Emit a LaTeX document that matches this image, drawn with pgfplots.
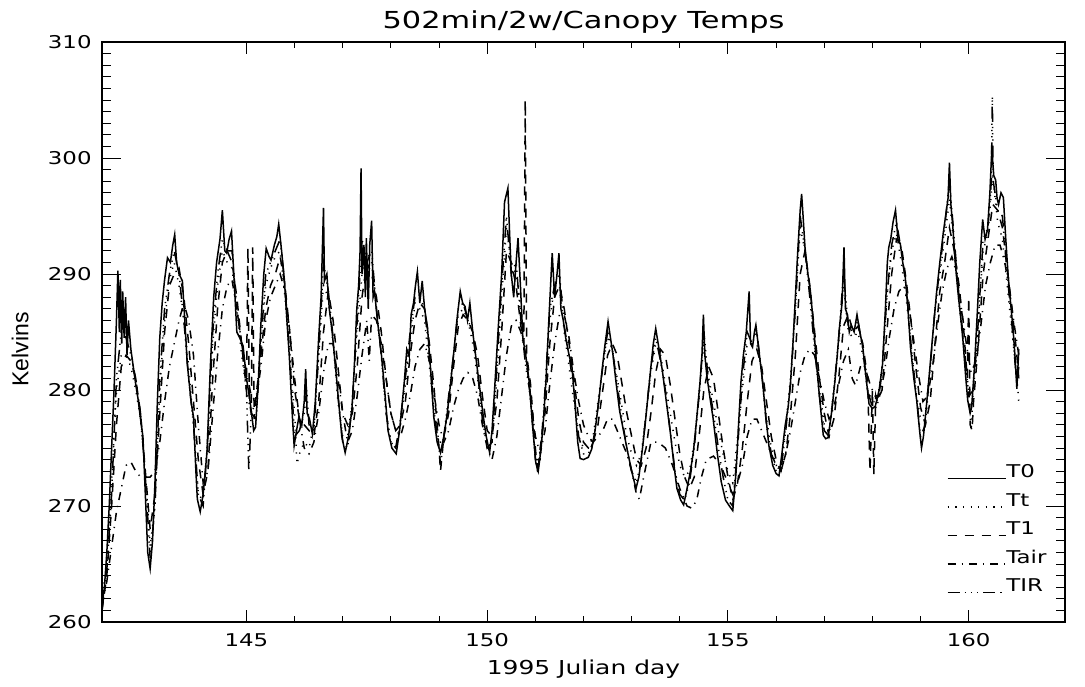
\documentclass[border=0pt]{standalone}
\usepackage{pgfplots}
\pgfplotsset{compat=1.18}
\usepackage{fontspec}
\setmainfont{DejaVu Sans}[FakeStretch=1.3]
\newfontfamily\kfont{Liberation Sans}

\begin{document}
\begin{tikzpicture}
\useasboundingbox (-51pt,-32pt) rectangle (491.5pt,311pt);

\begin{axis}[
    at={(0pt,0pt)}, anchor=south west,
    scale only axis, width=481.5pt, height=290pt,
    xmin=142, xmax=162, ymin=260, ymax=310,
    xtick={145,150,155,160}, minor x tick num=4,
    ytick={260,270,...,310}, minor y tick num=9,
    tick pos=both, tick align=inside,
    major tick length=6pt, minor tick length=3pt,
    axis line style={line width=0.6pt},
    every tick/.style={black, line width=0.5pt},
    /pgf/number format/assume math mode=true,
    /pgf/number format/set thousands separator={},
    tick label style={font=\fontsize{8.8}{10}\selectfont},
    xticklabel style={inner sep=0pt, yshift=-5.5pt},
    yticklabel style={inner sep=0pt, xshift=-5pt},
    title={502min/2w/Canopy Temps},
    title style={at={(0.5,1)}, anchor=base, yshift=1pt, inner sep=0pt,
                 font=\fontsize{11.7}{13}\selectfont},
    xlabel={1995 Julian day},
    xlabel style={at={(axis description cs:0.5,0)}, anchor=north, yshift=-19pt,
                  inner sep=0pt, font=\fontsize{9.6}{11}\selectfont},
    ylabel={Kelvins},
    ylabel style={at={(axis description cs:-0.085,0.47)}, anchor=center,
                  inner sep=0pt, font=\kfont\fontsize{11.5}{12}\selectfont},
    legend style={at={(axis description cs:0.877,0.272)}, anchor=north west,
                  draw=none, fill=none, inner sep=0pt, row sep=6.3pt, column sep=0pt,
                  nodes={inner sep=0pt}, font=\fontsize{8.8}{10}\selectfont},
    legend cell align=left,
    legend image code/.code={\draw[#1] (0pt,-2.8pt) -- (29pt,-2.8pt);},
    every axis plot/.append style={black, line width=0.75pt},
  ]

  % T0
  \addplot[solid] coordinates {
    (142.00,261.5) (142.05,263) (142.10,266) (142.15,270) (142.20,275) (142.25,280)
    (142.30,286) (142.33,290.3) (142.36,285) (142.38,289.5) (142.41,284) (142.43,288.5)
    (142.46,284.5) (142.49,288) (142.52,283) (142.55,286) (142.60,283.5) (142.65,282)
    (142.70,280.5) (142.75,279.2) (142.80,277.5) (142.85,276) (142.90,271) (142.95,266)
    (143.00,264.6) (143.05,267) (143.10,272) (143.15,279) (143.20,284.5) (143.25,287.5)
    (143.30,289.5) (143.36,291.4) (143.42,291) (143.47,292.5) (143.51,293.4) (143.55,291)
    (143.60,290) (143.67,289.4) (143.72,286) (143.77,282.3) (143.85,279) (143.90,277.7)
    (143.95,273) (143.98,270.6) (144.04,269.5) (144.10,271) (144.18,274.6) (144.25,282)
    (144.32,288) (144.38,291) (144.45,293) (144.50,295.5) (144.55,292) (144.59,291.8)
    (144.64,293) (144.69,293.7) (144.75,289) (144.80,285) (144.86,284.5) (144.93,283.8)
    (145.00,281) (145.07,279.2) (145.12,277.5) (145.15,276.5) (145.19,276.8) (145.25,281)
    (145.30,285.7) (145.36,290) (145.41,292.2) (145.47,291.5) (145.51,291.2) (145.58,292.5)
    (145.63,293.2) (145.67,294.3) (145.73,292) (145.79,289.4) (145.84,286) (145.89,282.9)
    (145.95,278) (145.99,275.2) (146.04,276.5) (146.09,277.7) (146.15,277) (146.20,279)
    (146.23,281.8) (146.26,278) (146.31,277.5) (146.37,276.2) (146.43,279) (146.50,284.5)
    (146.55,288) (146.60,295.7) (146.62,289.4) (146.67,290) (146.72,287) (146.78,285)
    (146.85,282) (146.91,279.2) (146.98,276) (147.05,274.6) (147.12,276) (147.19,278.3)
    (147.24,282) (147.29,286.9) (147.33,289) (147.36,292) (147.38,299.1) (147.40,290)
    (147.44,292.5) (147.47,288) (147.49,293.1) (147.53,287) (147.56,292.5) (147.60,294.6)
    (147.63,288) (147.66,288.5) (147.72,286) (147.80,283.2) (147.87,280) (147.94,276.5)
    (148.02,275) (148.11,274.5) (148.18,276.5) (148.28,280.8) (148.33,283.5) (148.38,282.9)
    (148.42,286.5) (148.47,287.5) (148.51,289) (148.55,290.2) (148.60,287.5) (148.65,289.4)
    (148.70,287) (148.76,285.4) (148.82,282) (148.89,277.7) (148.96,275.5) (149.03,274.6)
    (149.10,276) (149.17,278) (149.23,280.2) (149.30,283) (149.37,286) (149.44,288.5)
    (149.49,287.5) (149.54,287.2) (149.59,286) (149.64,287.5) (149.70,285) (149.78,282.3)
    (149.85,280) (149.92,277.7) (149.98,276) (150.05,274.6) (150.10,276.5) (150.16,280.5)
    (150.23,285.4) (150.30,290) (150.36,296.2) (150.43,297.4) (150.47,293) (150.50,290)
    (150.55,288) (150.60,291) (150.64,293.1) (150.69,289) (150.74,284.5) (150.80,283)
    (150.87,280.8) (150.94,277) (151.01,273.7) (151.06,273) (151.12,275) (151.17,277.5)
    (151.22,280.8) (151.28,286) (151.35,291.8) (151.40,288) (151.45,290) (151.49,291.8)
    (151.53,287) (151.58,286) (151.63,284.5) (151.70,283) (151.76,282) (151.82,279)
    (151.88,275.5) (151.93,274.1) (152.00,274) (152.10,274.2) (152.17,274.9) (152.24,276.5)
    (152.31,278.8) (152.38,281.5) (152.44,283.7) (152.51,285.9) (152.56,284.5) (152.61,283.1)
    (152.68,280.5) (152.75,278.2) (152.83,276.5) (152.92,274.6) (153.00,273) (153.09,271.5)
    (153.15,272.5) (153.22,274.8) (153.28,277) (153.33,279.1) (153.40,282) (153.45,284)
    (153.50,285.3) (153.57,283.5) (153.64,281.6) (153.72,279) (153.81,276.1) (153.88,273.5)
    (153.94,271.5) (154.02,270.5) (154.08,270.1) (154.15,271.5) (154.22,273) (154.28,274.6)
    (154.35,277.5) (154.42,280.7) (154.46,283) (154.49,286.5) (154.52,283) (154.56,281.3)
    (154.62,279.5) (154.69,277.6) (154.78,274.5) (154.86,272.1) (154.95,270.5) (155.03,270)
    (155.10,269.6) (155.17,273) (155.22,277) (155.27,280.7) (155.32,283) (155.38,285)
    (155.44,288.5) (155.47,284) (155.51,283.7) (155.55,285) (155.58,285.6) (155.64,283.5)
    (155.72,280.7) (155.78,278) (155.85,275.2) (155.93,273.5) (156.00,272.8) (156.06,272.6)
    (156.12,274.5) (156.19,277) (156.25,278.5) (156.30,280.7) (156.35,284) (156.40,288)
    (156.45,292) (156.50,295.5) (156.53,296.9) (156.56,295) (156.60,292.3) (156.66,290)
    (156.71,288.6) (156.78,285.5) (156.84,282.2) (156.91,279) (156.98,276.1) (157.03,275.8)
    (157.08,275.9) (157.15,278) (157.22,280.7) (157.27,283) (157.32,285.6) (157.37,287.5)
    (157.41,292.3) (157.44,287) (157.48,286.5) (157.52,285) (157.56,285.6) (157.62,285)
    (157.68,286.5) (157.74,285) (157.80,283.7) (157.87,281) (157.93,278.8) (158.00,278.4)
    (158.06,278.6) (158.14,280) (158.21,282.2) (158.27,287) (158.31,291) (158.34,292.3)
    (158.38,293) (158.43,294.5) (158.48,295.5) (158.53,293) (158.58,292.6) (158.63,291)
    (158.68,289.8) (158.73,287.5) (158.79,283.7) (158.86,281) (158.92,279.1) (158.98,276.5)
    (159.02,275) (159.06,276) (159.13,279) (159.20,282.2) (159.27,285.5) (159.33,288.3)
    (159.40,291) (159.47,293.5) (159.52,295) (159.57,296.5) (159.60,299.6) (159.63,296)
    (159.67,294.1) (159.72,291) (159.78,288.3) (159.84,286) (159.88,284.3) (159.94,281)
    (159.98,279.1) (160.03,278) (160.06,278.5) (160.12,282) (160.18,286.8) (160.23,291)
    (160.29,294.7) (160.34,293) (160.39,293.8) (160.44,297) (160.48,300.8) (160.52,298.5)
    (160.56,298.1) (160.59,296.5) (160.62,296) (160.67,297) (160.72,296.6) (160.77,293)
    (160.82,289.8) (160.87,287.5) (160.92,285.3) (160.96,283) (161.00,280.1) (161.04,283.5)
  };
  \addlegendentry{T0}

  % Tt
  \addplot[dash pattern=on 0.6pt off 3.2pt] coordinates {
    (142.0,262) (142.1,265) (142.2,272) (142.3,280) (142.4,283) (142.5,283) (142.6,282)
    (142.7,280) (142.8,277.5) (142.9,273) (143.0,266.5) (143.1,270) (143.2,280) (143.3,286)
    (143.4,289.5) (143.5,291) (143.6,289) (143.7,286) (143.8,282) (143.9,277) (144.0,271)
    (144.1,270.5) (144.2,276) (144.3,284) (144.4,289) (144.5,292) (144.6,291) (144.7,290.5)
    (144.8,287) (144.9,283) (145.0,280) (145.1,278) (145.2,279) (145.3,284) (145.4,289)
    (145.5,290.5) (145.6,291.5) (145.7,292) (145.8,288) (145.9,283) (146.0,278) (146.05,273.6)
    (146.1,274.5) (146.2,275.5) (146.3,275) (146.4,277) (146.5,283) (146.6,289) (146.7,288)
    (146.8,284) (146.9,279) (147.0,276) (147.1,276) (147.2,279) (147.3,285) (147.4,290)
    (147.5,292) (147.6,291) (147.7,287) (147.8,283) (147.9,278) (148.0,275.5) (148.1,275)
    (148.2,277) (148.3,280.5) (148.4,284) (148.5,287.5) (148.6,287) (148.7,286) (148.8,282)
    (148.9,278) (149.0,275.5) (149.1,275.5) (149.2,279) (149.3,283) (149.4,286.5) (149.5,287)
    (149.6,286) (149.7,284) (149.8,281) (149.9,277.5) (150.0,275.5) (150.1,275.5) (150.2,281)
    (150.3,288) (150.4,294) (150.5,291) (150.6,290) (150.7,287) (150.8,283) (150.9,279)
    (151.0,274.5) (151.1,274.5) (151.2,279) (151.3,286) (151.4,289) (151.5,289) (151.6,285)
    (151.7,282) (151.8,279) (151.9,276) (152.0,275) (152.1,275) (152.2,276) (152.3,279)
    (152.4,282) (152.5,284.5) (152.6,283.5) (152.7,281) (152.8,278.5) (152.9,276) (153.0,274.5)
    (153.1,273.5) (153.2,274.5) (153.3,278) (153.4,281.5) (153.5,284) (153.6,283) (153.7,280.5)
    (153.8,278) (153.9,275.5) (154.0,273.5) (154.1,272.5) (154.2,273) (154.3,275.5) (154.4,279.5)
    (154.5,284) (154.6,281) (154.7,279) (154.8,276.5) (154.9,274.5) (155.0,273) (155.1,272)
    (155.2,276) (155.3,280) (155.4,284) (155.5,284) (155.6,284) (155.7,281.5) (155.8,277.5)
    (155.9,275) (156.0,273.5) (156.1,273.5) (156.2,277) (156.3,281) (156.4,287) (156.5,294)
    (156.6,292) (156.7,288.5) (156.8,284) (156.9,280) (157.0,277) (157.1,276.5) (157.2,280)
    (157.3,284) (157.4,289) (157.5,285) (157.6,284.5) (157.7,285) (157.8,283) (157.9,280)
    (158.0,279) (158.1,279) (158.2,282) (158.3,288) (158.4,292) (158.5,293.5) (158.6,291)
    (158.7,288) (158.8,284) (158.9,280) (159.0,277.5) (159.1,278) (159.2,282) (159.3,287)
    (159.4,290) (159.5,293) (159.6,296.5) (159.7,292) (159.8,287.5) (159.9,283.5) (160.0,280)
    (160.05,276.5) (160.1,280.5) (160.2,286) (160.3,292) (160.4,293.5) (160.5,298.5) (160.6,294.5)
    (160.7,293) (160.8,289) (160.9,285) (161.0,281) (161.04,279)
  };
  \addlegendentry{Tt}

  % T1
  \addplot[dash pattern=on 4.5pt off 4pt] coordinates {
    (142.0,261) (142.1,264) (142.2,270) (142.3,277) (142.4,282) (142.5,283) (142.6,282.5)
    (142.7,281) (142.8,278) (142.9,273) (143.0,268) (143.1,271) (143.2,278) (143.3,285)
    (143.4,289) (143.5,290) (143.6,290.5) (143.7,288) (143.8,284) (143.9,279) (144.0,274)
    (144.1,271) (144.2,273) (144.3,281) (144.4,287) (144.5,291) (144.6,292) (144.7,291)
    (144.8,288) (144.9,284) (145.0,280) (145.03,292.3) (145.06,279) (145.10,278) (145.13,292.3)
    (145.16,277.5) (145.2,279.5) (145.3,283) (145.4,287) (145.5,289) (145.6,290) (145.7,291.5)
    (145.8,289) (145.9,285) (146.0,280) (146.1,277.5) (146.2,277) (146.3,276.5) (146.4,276)
    (146.5,279) (146.6,285) (146.7,288.5) (146.8,286) (146.9,282) (147.0,278) (147.1,277)
    (147.2,278) (147.3,282) (147.4,288) (147.5,291) (147.6,290) (147.7,288) (147.8,285)
    (147.9,281) (148.0,278) (148.1,276.5) (148.2,277) (148.3,279) (148.4,283) (148.5,286)
    (148.6,287.5) (148.7,287) (148.8,284) (148.9,280) (149.0,275) (149.03,273) (149.1,276)
    (149.2,278) (149.3,282) (149.4,285.5) (149.5,286.5) (149.6,286) (149.7,285) (149.8,283)
    (149.9,279.5) (150.0,276.5) (150.1,276) (150.2,279) (150.3,285) (150.4,292) (150.5,291)
    (150.6,289) (150.7,285.5) (150.76,284) (150.79,305) (150.82,283) (150.9,280.5) (151.0,275)
    (151.05,272.8) (151.1,275) (151.2,278) (151.3,284) (151.4,288) (151.5,289) (151.6,287)
    (151.7,284) (151.8,281) (151.9,277.5) (152.0,275.5) (152.1,275) (152.2,275.5) (152.3,277)
    (152.4,280) (152.5,283) (152.6,284) (152.7,283) (152.8,280.5) (152.9,278) (153.0,276)
    (153.1,274) (153.2,273.5) (153.3,275) (153.4,278) (153.5,281.5) (153.6,283.5) (153.7,283)
    (153.8,280.5) (153.9,277.5) (154.0,274.5) (154.1,272.5) (154.2,271.5) (154.3,272.5)
    (154.4,276) (154.5,280) (154.6,282) (154.7,281) (154.8,278) (154.9,275) (155.0,272.5)
    (155.1,270.5) (155.2,272) (155.3,275) (155.4,279) (155.5,282.5) (155.6,283.5) (155.7,282)
    (155.8,279) (155.9,276) (156.0,274) (156.1,273) (156.2,274.5) (156.3,278) (156.4,283)
    (156.5,290) (156.6,292) (156.7,289) (156.8,285) (156.9,281) (157.0,278) (157.1,276)
    (157.2,277.5) (157.3,281) (157.4,285.5) (157.5,286.5) (157.6,285) (157.7,285.5) (157.8,284)
    (157.9,281) (157.95,273) (158.0,280) (158.03,272.7) (158.07,279.5) (158.1,279) (158.2,280)
    (158.3,285) (158.4,290) (158.5,293) (158.6,292.5) (158.7,289.5) (158.8,286) (158.9,282)
    (159.0,278.5) (159.1,277) (159.2,279) (159.3,284) (159.4,288.5) (159.5,291) (159.6,294)
    (159.7,292) (159.8,289) (159.9,285) (159.97,281) (160.0,288) (160.03,277) (160.07,276.5)
    (160.1,279) (160.2,284) (160.3,290) (160.4,293) (160.5,296) (160.6,295.5) (160.7,294)
    (160.8,290.5) (160.9,287) (161.0,283) (161.04,281)
  };
  \addlegendentry{T1}

  % Tair
  \addplot[dash pattern=on 4pt off 3pt on 0.6pt off 3pt] coordinates {
    (142.0,261.5) (142.1,263.5) (142.2,266.5) (142.3,269.5) (142.4,271.5) (142.5,273.5)
    (142.6,273.8) (142.7,273) (142.8,272.5) (142.9,272.5) (143.0,272.5) (143.1,273)
    (143.2,275.5) (143.3,279) (143.4,282) (143.5,284) (143.6,286) (143.7,287.5) (143.8,286)
    (143.9,283) (144.0,277) (144.1,272) (144.2,273) (144.3,278) (144.4,283) (144.5,287)
    (144.6,289) (144.7,289.5) (144.8,287) (144.9,284) (145.0,281.5) (145.1,279.5) (145.2,279)
    (145.3,282) (145.4,286) (145.5,288) (145.6,289) (145.7,290) (145.8,288.5) (145.9,285)
    (146.0,281) (146.1,277.5) (146.2,275) (146.3,274.5) (146.4,275.5) (146.5,278) (146.6,281.5)
    (146.7,284) (146.8,284) (146.9,281) (147.0,278) (147.1,275.5) (147.2,276.5) (147.3,279.5)
    (147.4,283) (147.5,286) (147.55,282.5) (147.6,286.5) (147.7,286) (147.8,284) (147.9,281)
    (148.0,278) (148.1,276.5) (148.2,276) (148.3,277.5) (148.4,279.5) (148.5,282) (148.6,283.5)
    (148.7,284) (148.8,282.5) (148.9,279.5) (149.0,277) (149.1,275.5) (149.2,276.5) (149.3,278.5)
    (149.4,280) (149.5,281) (149.6,281.5) (149.7,281) (149.8,279.5) (149.9,277) (150.0,275)
    (150.1,274) (150.2,276) (150.3,279.5) (150.4,283) (150.5,285.5) (150.6,286) (150.7,285)
    (150.8,283) (150.9,279.5) (151.0,276) (151.1,274.5) (151.2,276.5) (151.3,280.5) (151.4,284)
    (151.5,286.5) (151.6,286.5) (151.7,284.5) (151.8,281.5) (151.9,279) (152.0,277) (152.1,276)
    (152.2,275.5) (152.3,276) (152.4,276.5) (152.5,277.5) (152.6,277.5) (152.7,276.5) (152.8,275.5)
    (152.9,274.5) (153.0,273) (153.1,271) (153.16,270.6) (153.25,272.5) (153.4,275.5)
    (153.55,275.5) (153.7,275) (153.85,273.5) (154.0,271.5) (154.15,270) (154.25,269.8)
    (154.35,270.5) (154.45,272.5) (154.55,274) (154.7,274.3) (154.85,273.5) (155.0,272)
    (155.1,271) (155.2,272) (155.3,273.5) (155.4,276) (155.5,277.5) (155.6,277.5) (155.7,276.5)
    (155.85,275) (156.0,273.5) (156.1,273) (156.2,274.5) (156.3,276.5) (156.4,279) (156.5,281.5)
    (156.6,283) (156.7,283.5) (156.8,283) (156.9,281) (157.0,279) (157.1,277.5) (157.2,278.5)
    (157.3,280.5) (157.4,282.5) (157.5,283.5) (157.58,281) (157.65,280.4) (157.75,282)
    (157.85,282) (157.95,280.5) (158.05,279.5) (158.15,279.5) (158.25,281.5) (158.35,284.5)
    (158.45,287) (158.55,288.5) (158.65,289) (158.75,287.5) (158.85,284.5) (158.95,281.5)
    (159.05,279) (159.15,279.5) (159.25,282) (159.35,285.5) (159.45,288.5) (159.55,290.5)
    (159.65,291.5) (159.75,290) (159.85,287) (159.95,284) (160.05,281.5) (160.15,282.5)
    (160.25,285.5) (160.35,289) (160.45,291) (160.55,292.5) (160.65,292.5) (160.75,291)
    (160.85,288.5) (160.95,285.5) (161.04,283)
  };
  \addlegendentry{Tair}

  % TIR
  \addplot[dash pattern=on 6pt off 2.5pt on 0.6pt off 2.5pt on 0.6pt off 2.5pt on 0.6pt off 2.5pt] coordinates {
    (142.0,261) (142.1,264.5) (142.2,271) (142.3,281) (142.4,285) (142.5,284.5) (142.6,283)
    (142.7,281) (142.8,278) (142.9,272.5) (143.0,265.5) (143.1,270) (143.2,281) (143.3,287)
    (143.4,290) (143.5,292) (143.6,290) (143.7,286) (143.8,281) (143.9,277) (144.0,271)
    (144.1,270) (144.2,276) (144.3,285) (144.4,290) (144.5,293) (144.6,292) (144.7,292)
    (144.8,287) (144.9,284) (145.0,280) (145.05,273) (145.1,278) (145.2,277.5) (145.3,284)
    (145.4,290) (145.5,291) (145.6,292) (145.7,293) (145.8,289) (145.9,283) (146.0,276)
    (146.1,276.5) (146.2,278) (146.25,280) (146.3,277) (146.4,276.5) (146.5,283) (146.6,291)
    (146.7,288.5) (146.8,284.5) (146.9,279.5) (147.0,275.5) (147.1,275) (147.2,279) (147.3,286)
    (147.4,293) (147.5,291) (147.6,292) (147.7,287) (147.8,283) (147.9,278) (148.0,275.5)
    (148.1,275) (148.2,277.5) (148.3,281) (148.4,285) (148.5,288) (148.6,288) (148.7,287)
    (148.8,283) (148.9,278) (149.0,275) (149.03,273.5) (149.1,276) (149.2,279.5) (149.3,283)
    (149.4,287) (149.5,287.5) (149.6,286) (149.7,285) (149.8,281.5) (149.9,277.5) (150.0,275)
    (150.1,275.5) (150.2,282) (150.3,289) (150.4,295) (150.5,290) (150.6,291) (150.7,286)
    (150.8,282) (150.9,279.5) (151.0,274) (151.1,274) (151.2,280) (151.3,287) (151.4,289)
    (151.5,290) (151.6,285.5) (151.7,283) (151.8,280) (151.9,276) (152.0,274.5) (152.1,274.5)
    (152.2,275.5) (152.3,278.5) (152.4,282) (152.5,285) (152.6,283.5) (152.7,280.5) (152.8,277.5)
    (152.9,275) (153.0,273) (153.1,272) (153.2,274) (153.3,278) (153.4,282) (153.5,284.5)
    (153.6,282.5) (153.7,280) (153.8,276.5) (153.9,273) (154.0,271) (154.1,270.5) (154.2,272)
    (154.3,275) (154.4,279.5) (154.5,285) (154.6,280.5) (154.7,278) (154.8,275) (154.9,272.5)
    (155.0,270.5) (155.1,270) (155.2,275) (155.3,281) (155.4,285) (155.5,284) (155.6,285)
    (155.7,281.5) (155.8,277) (155.9,274.5) (156.0,273) (156.1,273) (156.2,276.5) (156.3,280.5)
    (156.4,287) (156.5,295) (156.6,292) (156.7,288) (156.8,283.5) (156.9,279.5) (157.0,276.5)
    (157.1,276) (157.2,280) (157.3,284.5) (157.4,290) (157.5,285.5) (157.6,285) (157.7,286)
    (157.8,283.5) (157.9,280) (158.0,278.5) (158.1,278.5) (158.2,281.5) (158.3,288) (158.4,292.5)
    (158.5,294.5) (158.6,292) (158.7,289) (158.8,284) (158.9,280) (159.0,276) (159.1,277)
    (159.2,282) (159.3,287) (159.4,290.5) (159.5,294) (159.6,298) (159.7,293) (159.8,288)
    (159.9,284) (160.0,279.5) (160.1,280) (160.2,286) (160.3,293) (160.4,294) (160.47,298)
    (160.49,305.3) (160.51,298) (160.6,295.5) (160.7,295) (160.8,290) (160.9,285.5)
    (161.0,280.5) (161.04,282)
  };
  \addlegendentry{TIR}
\end{axis}

% second axis: longer y ticks as in the original
\begin{axis}[
    at={(0pt,0pt)}, anchor=south west,
    scale only axis, width=481.5pt, height=290pt,
    xmin=142, xmax=162, ymin=260, ymax=310,
    xtick=\empty, ytick={260,270,...,310}, minor y tick num=9, yticklabels={},
    tick pos=both, tick align=inside,
    major tick length=9.5pt, minor tick length=4.5pt,
    axis line style={line width=0.6pt},
    every tick/.style={black, line width=0.5pt},
  ]
\end{axis}
\end{tikzpicture}
\end{document}
